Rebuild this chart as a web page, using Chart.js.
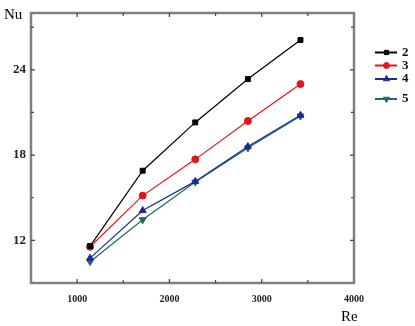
<!DOCTYPE html>
<html>
<head>
<meta charset="utf-8">
<script src="https://cdn.jsdelivr.net/npm/chart.js@4/dist/chart.umd.min.js"></script>
<style>
  html, body { margin: 0; padding: 0; background: #fff; }
  #wrap { width: 415px; height: 326px; }
</style>
</head>
<body>
<div id="wrap"><canvas id="c" width="415" height="326"></canvas></div>
<script>
const reValues = [1140, 1710, 2280, 2850, 3420];
const series2 = [11.6, 16.9, 20.3, 23.35, 26.1];
const series3 = [11.55, 15.15, 17.7, 20.4, 23.0];
const series4 = [10.75, 14.1, 16.15, 18.6, 20.8];
const series5 = [10.5, 13.45, 16.1, 18.5, 20.75];
const seriesNames = ['2', '3', '4', '5'];
const xTickLabels = [1000, 2000, 3000, 4000];
const yTickLabels = [12, 18, 24];

function pts(ys) { return reValues.map((x, i) => ({ x: x, y: ys[i] })); }

const styles = [
  { color: '#000000', style: 'rect', radius: 3.5, rot: 0 },
  { color: '#e8141c', style: 'circle', radius: 3.5, rot: 0 },
  { color: '#1c2a94', style: 'triangle', radius: 4, rot: 0 },
  { color: '#1f6b66', style: 'triangle', radius: 4, rot: 180 }
];
const allSeries = [series2, series3, series4, series5];

const datasets = allSeries.map((s, i) => ({
  label: seriesNames[i],
  data: pts(s),
  borderColor: styles[i].color,
  backgroundColor: styles[i].color,
  borderWidth: 1.2,
  pointStyle: styles[i].style,
  pointRadius: styles[i].radius,
  pointRotation: styles[i].rot,
  pointBorderWidth: 1,
  tension: 0
}));

const frameColor = '#808080';

const framePlugin = {
  id: 'frame',
  afterDatasetsDraw(chart) {
    const ctx = chart.ctx;
    const a = chart.chartArea;
    const xs = chart.scales.x, ys = chart.scales.y;
    ctx.save();
    ctx.strokeStyle = frameColor;
    ctx.lineWidth = 2.5;
    ctx.strokeRect(a.left, a.top, a.right - a.left, a.bottom - a.top);
    // inward tick marks, mirrored
    ctx.strokeStyle = '#444';
    ctx.lineWidth = 1.2;
    for (let v = 500; v <= 4000; v += 500) {
      const px = xs.getPixelForValue(v);
      if (px <= a.left + 2 || px >= a.right - 2) continue;
      const len = (v % 1000 === 0) ? 4 : 3;
      ctx.beginPath();
      ctx.moveTo(px, a.bottom); ctx.lineTo(px, a.bottom - len);
      ctx.moveTo(px, a.top); ctx.lineTo(px, a.top + len);
      ctx.stroke();
    }
    for (let v = 9; v <= 28; v += 3) {
      const py = ys.getPixelForValue(v);
      if (py >= a.bottom - 2 || py <= a.top + 2) continue;
      const len = (v % 6 === 0) ? 4 : 3;
      ctx.beginPath();
      ctx.moveTo(a.left, py); ctx.lineTo(a.left + len, py);
      ctx.moveTo(a.right, py); ctx.lineTo(a.right - len, py);
      ctx.stroke();
    }
    // axis titles
    ctx.fillStyle = '#000';
    ctx.font = '15px "Liberation Serif", "DejaVu Serif", serif';
    ctx.textBaseline = 'alphabetic';
    ctx.textAlign = 'left';
    ctx.fillText('Nu', 4, 19);
    ctx.fillText('Re', 341, 321);
    // legend
    const rows = [52.5, 65.5, 79, 99];
    chart.data.datasets.forEach((ds, i) => {
      const y = rows[i];
      ctx.strokeStyle = ds.borderColor;
      ctx.fillStyle = ds.backgroundColor;
      ctx.lineWidth = 2;
      ctx.beginPath();
      ctx.moveTo(375, y); ctx.lineTo(397, y);
      ctx.stroke();
      ctx.lineWidth = 1;
      Chart.helpers.drawPoint(ctx, {
        pointStyle: ds.pointStyle,
        radius: ds.pointRadius - 0.5,
        rotation: ds.pointRotation,
        borderWidth: 1
      }, 386.5, y);
      ctx.fillStyle = '#111';
      ctx.font = 'bold 13px "Liberation Serif", "DejaVu Serif", serif';
      ctx.textBaseline = 'middle';
      ctx.fillText(ds.label, 402, y);
    });
    ctx.restore();
  }
};

new Chart(document.getElementById('c'), {
  type: 'line',
  data: { datasets: datasets },
  options: {
    responsive: false,
    animation: false,
    layout: { padding: { top: 13, right: 61, left: 0, bottom: 0 } },
    plugins: { legend: { display: false }, tooltip: { enabled: false } },
    scales: {
      x: {
        type: 'linear',
        min: 500, max: 4000,
        grid: { display: false, drawTicks: false },
        border: { display: false },
        ticks: {
          stepSize: 500,
          autoSkip: false,
          maxRotation: 0,
          padding: 10,
          color: '#222',
          font: { family: '"Liberation Serif", "DejaVu Serif", serif', size: 10, weight: 'bold' },
          callback: (v) => xTickLabels.includes(v) ? String(v) : ''
        },
        afterFit: (s) => { s.height = 43; }
      },
      y: {
        type: 'linear',
        min: 9, max: 28,
        grid: { display: false, drawTicks: false },
        border: { display: false },
        ticks: {
          stepSize: 3,
          autoSkip: false,
          padding: 5,
          color: '#222',
          font: { family: '"Liberation Serif", "DejaVu Serif", serif', size: 13, weight: 'bold' },
          callback: (v) => yTickLabels.includes(v) ? String(v) : ''
        },
        afterFit: (s) => { s.width = 31; }
      }
    }
  },
  plugins: [framePlugin]
});
</script>
</body>
</html>
